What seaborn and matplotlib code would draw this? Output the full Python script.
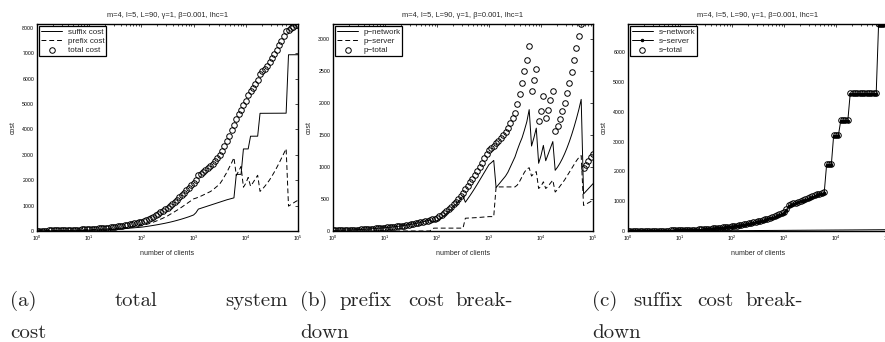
import numpy as np
import pandas as pd
import matplotlib
matplotlib.use("Agg")
import matplotlib.pyplot as plt
import seaborn as sns
from matplotlib.ticker import LogLocator, LogFormatterMathtext, MultipleLocator, NullFormatter

# ---------------- data ----------------
clients = np.logspace(0, 5, 111)   # sampling grid of the number of clients

p_total = [10, 11, 12, 13, 14, 15, 16, 17, 18, 19, 21, 23, 25, 27, 29, 31, 34, 37, 40, 43, 46, 49, 52,
           55, 59, 63, 67, 71, 76, 81, 86, 92, 98, 104, 111, 118, 126, 134, 143, 152, 162, 172, 182, 193, 205,
           228, 255, 284, 315, 348, 383, 420, 460, 502, 546, 592, 650, 705, 760, 818, 878, 940, 1005, 1070, 1135, 1200, 1265,
           1295, 1330, 1370, 1415, 1460, 1505, 1550, 1610, 1690, 1770, 1850, 1990, 2150, 2310, 2500, 2680, 2890,
           2190, 2360, 2540, 1725, 1880, 2110, 1765, 1900, 2050, 2195,
           1560, 1650, 1760, 1880, 2010, 2160, 2320, 2490, 2670, 2860, 3050, 3240,
           980, 1040, 1100, 1160, 1210]

p_server = [0, 0, 0, 0, 0, 0, 0, 0, 0, 0, 0, 0, 0, 0, 0, 0, 0, 0, 0, 0, 0, 0, 0, 0, 0, 0, 0, 0, 0, 0,
            0, 0, 0, 0, 0, 0, 0, 0, 0, 0, 0, 0,
            40, 45, 45, 45, 45, 45, 45, 45, 45, 45, 45, 45, 45, 45,
            200, 202, 204, 206, 208, 210, 213, 216, 219, 222,
            225, 225, 225,
            690, 690, 690, 690, 690, 690, 690, 690, 690,
            720, 780, 850, 920, 970, 990,
            860, 900, 930, 665, 700, 770, 665, 700, 750, 795,
            610, 650, 700, 750, 800, 860, 920, 980, 1040, 1100, 1150, 1180,
            400, 420, 440, 460, 470]

s_server = [2, 2, 3, 3, 3, 4, 4, 5, 5, 6, 7, 7, 8, 9, 10, 11, 12, 13, 15, 16, 18, 20, 22,
            24, 26, 29, 32, 35, 38, 42, 46, 50, 55, 60, 66, 72, 79, 86, 94, 102, 110, 118, 125, 132, 140,
            152, 165, 178, 192, 207, 222, 238, 255, 272, 290, 310, 330, 352, 375, 400, 425, 452, 480, 510, 540, 575, 610,
            700, 840, 870, 900, 930, 960, 990, 1020, 1050, 1080, 1110, 1140, 1170, 1200, 1225, 1250, 1275,
            2200, 2200, 2200, 3200, 3200, 3200, 3700, 3700, 3700, 3700,
            4600, 4600, 4600, 4600, 4600, 4600, 4600, 4600, 4600, 4600, 4600, 4600,
            6900, 6900, 6900, 6900, 6900]

s_network = [1, 1, 1, 1, 1, 1, 1, 1, 1, 1, 2, 2, 2, 2, 2, 2, 2, 2, 2, 2, 3, 3, 3,
             3, 3, 3, 4, 4, 4, 4, 5, 5, 5, 6, 6, 6, 7, 7, 8, 8, 9, 9, 10, 10, 11,
             11, 12, 12, 13, 13, 14, 14, 15, 15, 16, 16, 17, 17, 18, 18, 19, 19, 20, 20, 21, 21, 22,
             22, 23, 23, 24, 24, 25, 25, 26, 26, 27, 27, 28, 28, 29, 29, 30, 30, 31, 31, 32,
             32, 33, 33, 34, 34, 35, 35, 36, 36, 37, 37, 38, 38, 39, 39, 40, 40, 41, 41, 42, 42, 43, 43, 44]

title = "m=4, l=5, L=90, \u03b3=1, \u03b2=0.001, lhc=1"
captions = [
    [("(a)", 10, 0), ("total", 115, 0), ("system", 225, 0), ("cost", 10, 1)],
    [("(b)", 300, 0), ("prefix", 340, 0), ("cost", 408, 0), ("break-", 455, 0), ("down", 300, 1)],
    [("(c)", 592, 0), ("suffix", 633, 0), ("cost", 697, 0), ("break-", 745, 0), ("down", 592, 1)],
]

# ---------------- derived series ----------------
p_total = np.array(p_total, float)
p_server = np.array(p_server, float)
p_network = p_total - p_server
s_server = np.array(s_server, float)
s_network = np.array(s_network, float)
s_total = s_server + s_network
total = p_total + s_total

df = pd.DataFrame(dict(clients=clients, p_network=p_network, p_server=p_server, p_total=p_total,
                       s_network=s_network, s_server=s_server, s_total=s_total, total=total))

# ---------------- style ----------------
sns.set_style("white")
plt.rcParams['font.family'] = ['Liberation Sans', 'DejaVu Sans']
plt.rcParams['mathtext.fontset'] = 'custom'
plt.rcParams['mathtext.rm'] = 'Liberation Sans'
plt.rcParams['mathtext.it'] = 'Liberation Sans'

W, H = 885, 342
fig = plt.figure(figsize=(W / 100, H / 100), dpi=100)

def add_ax(left, right, top, bottom):
    return fig.add_axes([left / W, 1 - bottom / H, (right - left) / W, (bottom - top) / H])

axA = add_ax(37, 298, 24, 231)
axB = add_ax(333, 593, 24, 231)
axC = add_ax(628, 888, 24, 231)

LW = 0.7
dash = (0, (5, 3))
circ = dict(marker='o', linestyle='none', mfc='none', mec='k', ms=4.0, mew=0.7, color='k')

# panel a
sns.lineplot(data=df, x='clients', y='s_total', ax=axA, color='k', lw=LW, label='suffix cost', estimator=None, sort=False)
sns.lineplot(data=df, x='clients', y='p_total', ax=axA, color='k', lw=LW, linestyle=dash, label='prefix cost', estimator=None, sort=False)
sns.lineplot(data=df, x='clients', y='total', ax=axA, label='total cost', estimator=None, sort=False, **circ)

# panel b
sns.lineplot(data=df, x='clients', y='p_network', ax=axB, color='k', lw=LW, label='p\u2212network', estimator=None, sort=False)
sns.lineplot(data=df, x='clients', y='p_server', ax=axB, color='k', lw=LW, linestyle=dash, label='p\u2212server', estimator=None, sort=False)
sns.lineplot(data=df, x='clients', y='p_total', ax=axB, label='p\u2212total', estimator=None, sort=False, **circ)

# panel c
sns.lineplot(data=df, x='clients', y='s_network', ax=axC, color='k', lw=LW, label='s\u2212network', estimator=None, sort=False)
sns.lineplot(data=df, x='clients', y='s_server', ax=axC, color='k', lw=LW, marker='.', ms=3.5, mec='k', mfc='k', label='s\u2212server', estimator=None, sort=False)
sns.lineplot(data=df, x='clients', y='s_total', ax=axC, label='s\u2212total', estimator=None, sort=False, **circ)

for ax, ymax, step in [(axA, total.max(), 1000), (axB, p_total.max(), 500), (axC, s_total.max(), 1000)]:
    ax.set_xscale('log')
    ax.set_xlim(1, 1e5)
    ax.set_ylim(0, ymax)
    ax.xaxis.set_major_locator(LogLocator(base=10, numticks=10))
    ax.xaxis.set_major_formatter(LogFormatterMathtext())
    ax.xaxis.set_minor_locator(LogLocator(base=10, subs=np.arange(2, 10), numticks=100))
    ax.xaxis.set_minor_formatter(NullFormatter())
    ax.yaxis.set_major_locator(MultipleLocator(step))
    ax.tick_params(which='both', direction='in', top=True, right=True, labelsize=3.8,
                   width=0.5, pad=2, colors='k')
    ax.tick_params(which='major', length=2.5)
    ax.tick_params(which='minor', length=1.5)
    for sp in ax.spines.values():
        sp.set_linewidth(1.0)
        sp.set_color('k')
        sp.set_visible(True)
    ax.set_xlabel('number of clients', fontsize=5, labelpad=5)
    ax.set_ylabel('cost', fontsize=5, labelpad=4)
    ax.set_title(title, fontsize=5.4, pad=5)
    leg = ax.legend(loc='upper left', fontsize=5.8, frameon=True, fancybox=False, edgecolor='k',
                    framealpha=1, borderpad=0.2, handlelength=2.6, labelspacing=0.22,
                    borderaxespad=0.3, handletextpad=0.7)
    leg.get_frame().set_linewidth(0.9)

# captions
for group in captions:
    for word, x, line in group:
        fig.text(x / W, 1 - (306 + 32 * line) / H, word, fontsize=15, family='cmr10',
                 ha='left', va='baseline')

fig.savefig('out.png', dpi=100, facecolor='white')
